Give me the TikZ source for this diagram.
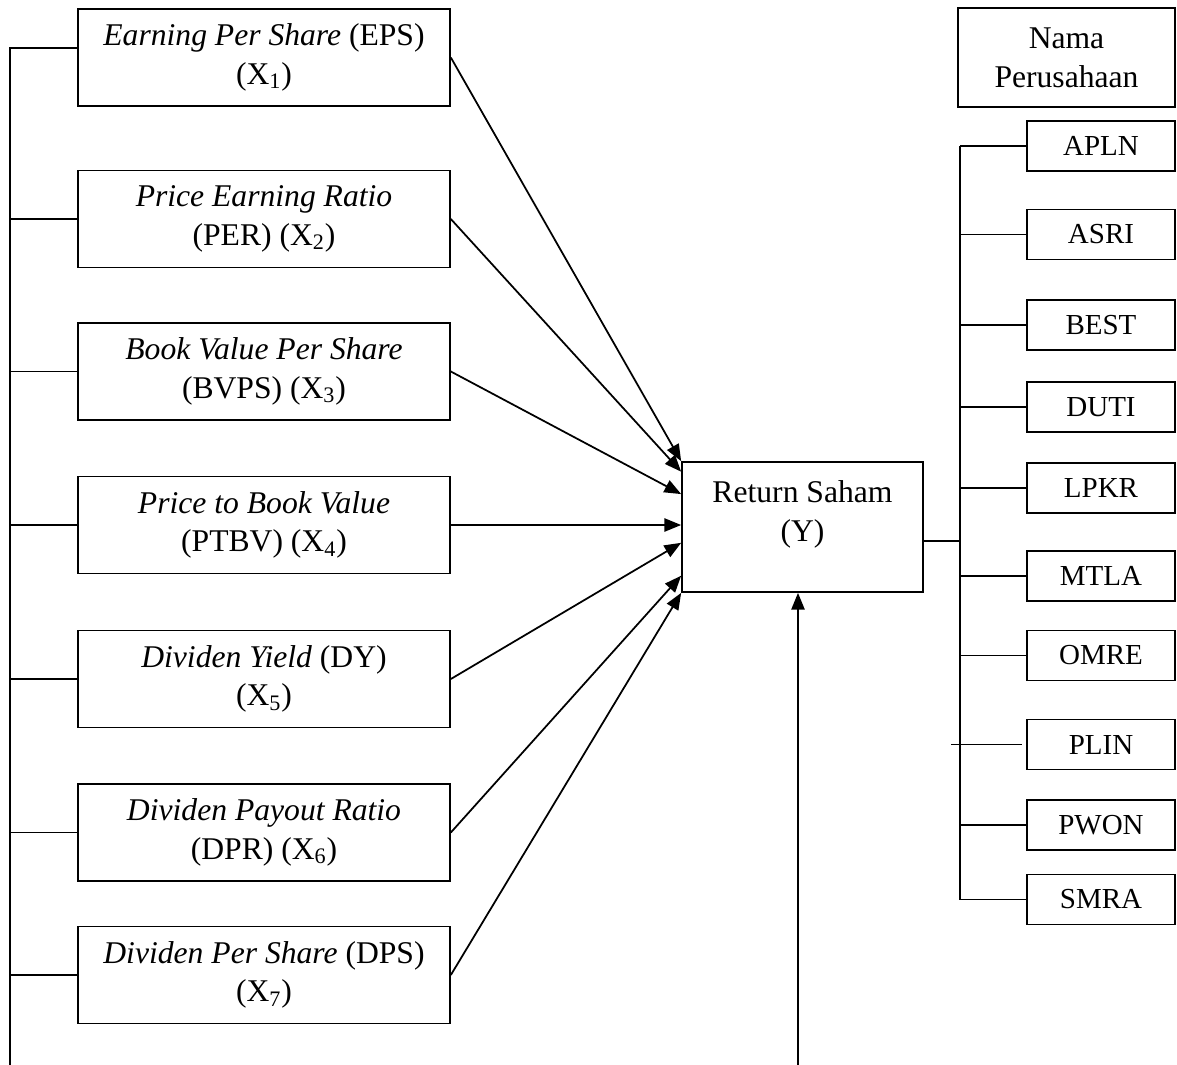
\documentclass[tikz,border=0pt]{standalone}
\usepackage{fontspec}
\setmainfont{Liberation Serif}
\usetikzlibrary{arrows.meta, positioning, calc}
\tikzset{
  varbox/.style={rectangle, minimum width=7.44cm, minimum height=1.94cm, align=center, draw=black, line width=1pt, font=\fontsize{18}{22}\selectfont},
  retbox/.style={rectangle, minimum width=4.82cm, minimum height=2.6cm, align=center, draw=black, line width=1pt, text depth=18pt, font=\fontsize{18}{22}\selectfont},
  namebox/.style={rectangle, minimum width=4.34cm, minimum height=1.98cm, align=center, draw=black, line width=1pt, font=\fontsize{18}{22}\selectfont},
  compbox/.style={rectangle, minimum width=2.96cm, minimum height=1cm, text centered, draw=black, line width=1pt, font=\fontsize{16.5}{19}\selectfont},
  arrow/.style={line width=1pt, -{Triangle[length=9.5pt, width=7.5pt]}, color=black},
  link/.style={line width=0.9pt, color=black}
}
\begin{document}
\begin{tikzpicture}[x=0.02cm, y=-0.02cm]
    \useasboundingbox (0,0) rectangle (1177,1065);
    % Defining nodes
    \node[varbox] (eps) at (264,57.5) {\textit{Earning Per Share} (EPS)\\(X\textsubscript{1})};
    \node[varbox] (per) at (264,219) {\textit{Price Earning Ratio}\\(PER) (X\textsubscript{2})};
    \node[varbox] (bvps) at (264,371.5) {\textit{Book Value Per Share}\\(BVPS) (X\textsubscript{3})};
    \node[varbox] (ptbv) at (264,525) {\textit{Price to Book Value}\\(PTBV) (X\textsubscript{4})};
    \node[varbox] (dy) at (264,679) {\textit{Dividen Yield} (DY)\\(X\textsubscript{5})};
    \node[varbox] (dpr) at (264,832.5) {\textit{Dividen Payout Ratio}\\(DPR) (X\textsubscript{6})};
    \node[varbox] (dps) at (264,975) {\textit{Dividen Per Share} (DPS)\\(X\textsubscript{7})};
    \node[retbox] (ret) at (802.5,527) {Return Saham\\(Y)};
    \node[namebox] (nama) at (1066.5,57.5) {Nama\\Perusahaan};
    \foreach \code/\ypos in {APLN/146, ASRI/234.5, BEST/325, DUTI/407, LPKR/488, MTLA/576, OMRE/655.5, PLIN/744.5, PWON/825, SMRA/899.5}
        \node[compbox] (\code) at (1101,\ypos) {\code};
    \coordinate (ltrunk) at (10,1065);
    \coordinate (epsin) at ([yshift=0.19cm]eps.west);
    \coordinate (rtrunk) at (960,146);
    \coordinate (retout) at ([yshift=-0.28cm]ret.east);
    \coordinate (yin) at (798,1065);

    % Drawing lines
    \draw[link] (ltrunk) -- (ltrunk |- epsin) -- (epsin);
    \foreach \var in {per, bvps, ptbv, dy, dpr, dps}
        \draw[link] (ltrunk |- \var.west) -- (\var.west);
    \draw[link] (rtrunk) -- (rtrunk |- SMRA.west);
    \foreach \code in {APLN, ASRI, BEST, DUTI, LPKR, MTLA, OMRE, PWON, SMRA}
        \draw[link] (rtrunk |- \code.west) -- (\code.west);
    \draw[link, shorten >=2.5pt] ([xshift=-5pt]rtrunk |- PLIN.west) -- (PLIN.west);
    \draw[link] (retout) -- (retout -| rtrunk);

    % Drawing arrows
    \draw[arrow] (eps.east) -- (ret.north west);
    \draw[arrow] (per.east) -- ($(ret.north west)!0.08!(ret.south west)$);
    \draw[arrow] (bvps.east) -- ($(ret.north west)!0.25!(ret.south west)$);
    \draw[arrow] (ptbv.east) -- (ptbv.east -| ret.west);
    \draw[arrow] (dy.east) -- ($(ret.north west)!0.62!(ret.south west)$);
    \draw[arrow] (dpr.east) -- ($(ret.north west)!0.87!(ret.south west)$);
    \draw[arrow] (dps.east) -- (ret.south west);
    \draw[arrow] (yin) -- (yin |- ret.south);
\end{tikzpicture}
\end{document}
